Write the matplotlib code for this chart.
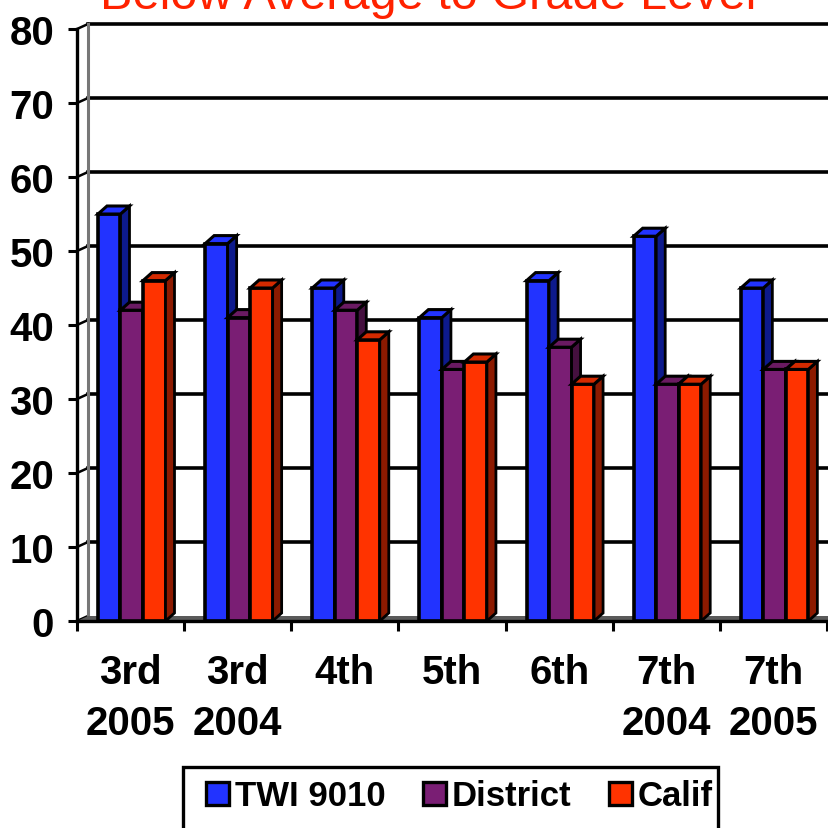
import matplotlib
matplotlib.use("Agg")
import matplotlib.pyplot as plt
from matplotlib.patches import Polygon, Patch, Rectangle

plt.rcParams['font.family'] = ['Liberation Sans', 'DejaVu Sans']

title = "Below Average to Grade Level"
categories = ["3rd\n2005", "3rd\n2004", "4th", "5th", "6th", "7th\n2004", "7th\n2005"]
series = ["TWI 9010", "District", "Calif"]
twi = [55, 51, 45, 41, 46, 52, 45]
district = [42, 41, 42, 34, 37, 32, 34]
calif = [46, 45, 38, 35, 32, 32, 34]

front_colors = ["#2233FF", "#7A1E74", "#FF3300"]
side_colors = ["#0D1A8C", "#45103F", "#8C1A00"]
top_colors = ["#2233FF", "#6A1A62", "#D42A00"]

W = 829
fig = plt.figure(figsize=(W / 100, W / 100), dpi=100)
ax = fig.add_axes([77 / W, 207 / W, 750 / W, 592 / W])
ax.set_xlim(0, 7)
ax.set_ylim(0, 80)

# pixel -> data unit conversions for the fake 3D depth
px_x = 7 / 750.0
px_y = 80 / 592.0
wall_dx, wall_dy = 11 * px_x, 5 * px_y
bar_dx, bar_dy = 9 * px_x, 8 * px_y

# back wall grid + left wall + floor
for v in range(0, 90, 10):
    if v > 0:
        ax.plot([wall_dx, 7.05], [v + wall_dy, v + wall_dy], color="black", lw=2.6, zorder=1, clip_on=False)
    ax.plot([0, wall_dx], [v, v + wall_dy], color="black", lw=1.8, zorder=1, clip_on=False)
ax.plot([wall_dx, wall_dx], [wall_dy, 80 + wall_dy], color="#777777", lw=2.2, zorder=1, clip_on=False)
ax.add_patch(Polygon([(0, 0), (wall_dx, wall_dy), (7.05, wall_dy), (7.05, 0)],
                     closed=True, facecolor="#5a5a5a", edgecolor="none", zorder=1.5, clip_on=False))

bar_w = 22.5 * px_x
start = 21 * px_x
z = 2
for i in range(len(categories)):
    for j, vals in enumerate([twi, district, calif]):
        h = vals[i]
        x0 = i + start + j * bar_w
        x1 = x0 + bar_w
        ax.bar(x0, h, width=bar_w, align="edge", color=front_colors[j],
               edgecolor="black", linewidth=2.6, zorder=z)
        ax.add_patch(Polygon([(x1, 0), (x1 + bar_dx, bar_dy), (x1 + bar_dx, h + bar_dy), (x1, h)],
                             closed=True, facecolor=side_colors[j], edgecolor="black", lw=2, zorder=z))
        ax.add_patch(Polygon([(x0, h), (x1, h), (x1 + bar_dx, h + bar_dy), (x0 + bar_dx, h + bar_dy)],
                             closed=True, facecolor=top_colors[j], edgecolor="black", lw=2.2, zorder=z))
        z += 1

for s in ["top", "right"]:
    ax.spines[s].set_visible(False)
for s in ["left", "bottom"]:
    ax.spines[s].set_linewidth(2.4)
    ax.spines[s].set_zorder(100)

ax.set_yticks(range(0, 90, 10))
ax.tick_params(axis="y", direction="out", length=6.5, width=2.2, labelsize=29, pad=10)
for lab in ax.get_yticklabels():
    lab.set_fontweight("bold")

ax.set_xticks(range(8))
ax.set_xticklabels([])
ax.set_xticks([i + 0.5 for i in range(7)], minor=True)
ax.set_xticklabels(categories, minor=True, fontsize=29, fontweight="bold", linespacing=1.45, va="top")
ax.tick_params(axis="x", which="major", direction="out", length=7.5, width=2.2)
ax.tick_params(axis="x", which="minor", length=0, pad=23)

fig.text(428 / W, 1 - 9 / W, title, color="#FF2200", fontsize=35, ha="center", va="baseline")

# legend box runs off the bottom edge like the original
fig.patches.append(Rectangle((183 / W, -20 / W), 535 / W, (829 - 768 + 20) / W, transform=fig.transFigure,
                             facecolor="white", edgecolor="black", linewidth=2.4, zorder=0))
handles = [Patch(facecolor=c, edgecolor="black", linewidth=2.4) for c in front_colors]
leg = fig.legend(handles, series, loc="upper left", bbox_to_anchor=(196 / W, 1 - 770 / W), ncol=3,
                 frameon=False, prop={"weight": "bold", "size": 25},
                 handlelength=0.66, handleheight=0.66, handletextpad=0.15, columnspacing=1.1,
                 borderpad=0.3, borderaxespad=0)

fig.savefig("out.png", dpi=100)
